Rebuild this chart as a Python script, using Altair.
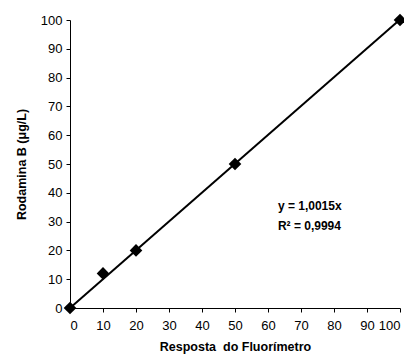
import altair as alt
import pandas as pd

x_vals = [0, 10, 20, 50, 100]
y_vals = [0, 12, 20, 50, 100]
trend_x = [0, 100]
trend_y = [0, 100.15]
ann_x = [63, 63]
ann_y = [35.5, 28.5]
ann_text = ["y = 1,0015x", "R² = 0,9994"]
tick_vals = [0, 10, 20, 30, 40, 50, 60, 70, 80, 90, 100]

pts = pd.DataFrame({"x": x_vals, "y": y_vals})
trend = pd.DataFrame({"x": trend_x, "y": trend_y})
ann = pd.DataFrame({"x": ann_x, "y": ann_y, "t": ann_text})

FONT = "Liberation Sans"
xs = alt.Scale(domain=[0, 100], nice=False, zero=False)
ys = alt.Scale(domain=[0, 100], nice=False, zero=False)

xaxis = alt.Axis(values=tick_vals, title="Resposta \u00a0do Fluorímetro",
                 grid=False, tickSize=4, labelPadding=7, titlePadding=8,
                 labelOverlap=False, tickCount=11)
yaxis = alt.Axis(values=tick_vals, title="Rodamina B (μg/L)",
                 grid=False, tickSize=4, labelPadding=4, titlePadding=12,
                 labelOverlap=False, tickCount=11)

line = alt.Chart(trend).mark_line(color="black", strokeWidth=2, clip=False).encode(
    x=alt.X("x:Q", scale=xs, axis=xaxis),
    y=alt.Y("y:Q", scale=ys, axis=yaxis),
)
points = alt.Chart(pts).mark_point(shape="diamond", filled=True, color="black",
                                   size=160, opacity=1).encode(
    x=alt.X("x:Q", scale=xs, axis=xaxis),
    y=alt.Y("y:Q", scale=ys, axis=yaxis),
)
text = alt.Chart(ann).mark_text(align="left", baseline="middle", font=FONT,
                                fontSize=12, fontWeight="bold", color="black").encode(
    x=alt.X("x:Q", scale=xs, axis=xaxis),
    y=alt.Y("y:Q", scale=ys, axis=yaxis),
    text="t:N",
)

chart = (line + points + text).properties(
    width=330, height=288,
    autosize=alt.AutoSizeParams(type="none"),
    padding={"left": 62, "top": 12, "right": 4, "bottom": 50},
).configure_view(stroke=None).configure_axis(
    domainColor="black", tickColor="black", labelColor="black", titleColor="black",
    labelFont=FONT, titleFont=FONT, labelFontSize=13, titleFontSize=12.5,
    titleFontWeight="bold", domainWidth=1, tickWidth=1,
)

chart.save("out.html", embed_options={"renderer": "svg", "actions": False})
